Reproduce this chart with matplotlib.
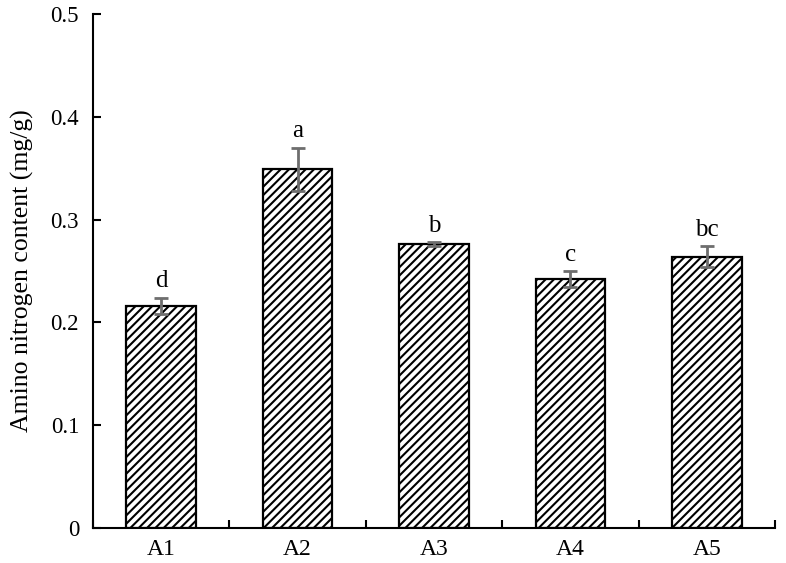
import matplotlib
matplotlib.use("Agg")
import matplotlib.pyplot as plt
import numpy as np

categories = ["A1", "A2", "A3", "A4", "A5"]
values = [0.216, 0.349, 0.276, 0.242, 0.264]
errors = [0.008, 0.021, 0.002, 0.008, 0.010]
letters = ["d", "a", "b", "c", "bc"]
yticks = [0, 0.1, 0.2, 0.3, 0.4, 0.5]
yticklabels = ["0", "0.1", "0.2", "0.3", "0.4", "0.5"]

plt.rcParams['font.family'] = ['Liberation Serif', 'DejaVu Serif']
plt.rcParams['hatch.linewidth'] = 1.5

fig = plt.figure(figsize=(7.86, 5.63), dpi=100)
ax = fig.add_axes([93/786, 35/563, 682/786, 514/563])

x = np.arange(len(categories))
ax.bar(x, values, width=0.51, color='white', edgecolor='black', linewidth=1.6, hatch='////')
ax.errorbar(x, values, yerr=errors, fmt='none', ecolor='#6e6e6e', elinewidth=2, capsize=5, capthick=2)
for xi, v, e, t in zip(x, values, errors, letters):
    ax.text(xi, v + e + 0.010, t, ha='center', va='baseline', fontsize=18)

ax.set_xlim(-0.5, 4.5)
ax.set_ylim(0, 0.5)
ax.set_yticks(yticks)
ax.set_yticklabels(yticklabels, fontsize=16.5)
ax.set_xticks(x)
ax.set_xticklabels(categories, fontsize=17)
ax.set_xticks(np.arange(-0.5, 4.6, 1.0), minor=True)
ax.tick_params(axis='x', which='major', length=0, pad=8)
ax.tick_params(axis='x', which='minor', direction='in', length=6, width=1.5)
ax.tick_params(axis='y', which='major', direction='in', length=6, width=1.5, pad=10)
ax.set_ylabel("Amino nitrogen content (mg/g)", fontsize=18.5, labelpad=12)
for s in ['top', 'right']:
    ax.spines[s].set_visible(False)
for s in ['left', 'bottom']:
    ax.spines[s].set_linewidth(1.5)

fig.savefig("out.png", dpi=100)
